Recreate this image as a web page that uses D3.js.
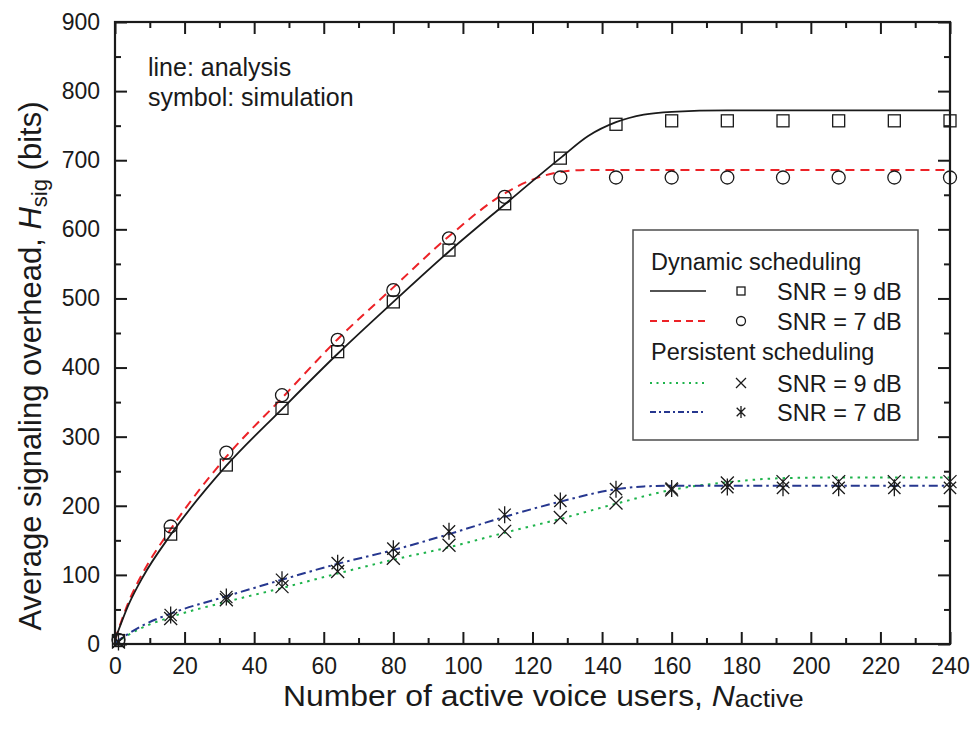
<!DOCTYPE html>
<html>
<head>
<meta charset="utf-8">
<script src="https://cdn.jsdelivr.net/npm/d3@7"></script>
<style>
  html, body { margin: 0; padding: 0; background: #fff; }
  svg { display: block; }
  text { font-family: "Liberation Sans", Arial, Helvetica, sans-serif; fill: #1a1a1a; }
</style>
</head>
<body>
<svg id="chart" width="972" height="732"></svg>
<script>
// ---------------- data ----------------
const xTickValues = [0, 20, 40, 60, 80, 100, 120, 140, 160, 180, 200, 220, 240];
const xMinorTicks = [10, 30, 50, 70, 90, 110, 130, 150, 170, 190, 210, 230];
const yTickValues = [0, 100, 200, 300, 400, 500, 600, 700, 800, 900];
const yMinorTicks = [50, 150, 250, 350, 450, 550, 650, 750, 850];

// simulation (symbols)
const simN       = [1, 16, 32, 48, 64, 80, 96, 112, 128, 144, 160, 176, 192, 208, 224, 240];
const simDyn9    = [5, 159, 259, 341, 423, 495, 570, 637, 703, 752, 757, 757, 757, 757, 757, 757];
const simDyn7    = [6, 170, 277, 360, 440, 512, 587, 647, 675, 675, 675, 675, 675, 675, 675, 675];
const simPer9    = [3, 37, 64, 83, 105, 124, 143, 163, 183, 204, 223, 233, 235, 235, 235, 235];
const simPer7    = [3, 42, 68, 93, 117, 138, 163, 187, 207, 224, 225, 227, 226, 226, 226, 226];

// analysis (lines)
const anDyn9N = [0, 4, 8, 16, 32, 48, 64, 80, 96, 112, 128, 136, 144, 152, 160, 176, 200, 240];
const anDyn9  = [6, 58, 97, 158, 258, 340, 420, 495, 568, 636, 703, 735, 755, 766, 770, 772, 772, 772];
const anDyn7N = [0, 4, 8, 16, 32, 48, 64, 80, 96, 112, 120, 128, 136, 144, 240];
const anDyn7  = [6, 62, 103, 166, 271, 356, 441, 516, 590, 652, 672, 683, 686, 686, 686];
const anPer9N = [0, 8, 16, 32, 48, 64, 80, 96, 112, 128, 144, 160, 176, 192, 208, 240];
const anPer9  = [2, 24, 39, 61, 81, 102, 122, 140, 161, 181, 203, 223, 234, 240, 241, 241];
const anPer7N = [0, 8, 16, 32, 48, 64, 80, 96, 112, 128, 144, 152, 160, 240];
const anPer7  = [2, 27, 44, 69, 93, 116, 136, 159, 184, 206, 224, 228, 229, 229];

const legendHeaders = ["Dynamic scheduling", "Persistent scheduling"];
const legendLabels  = ["SNR = 9 dB", "SNR = 7 dB", "SNR = 9 dB", "SNR = 7 dB"];

// ---------------- layout ----------------
const svg = d3.select("#chart");
const X0 = 115, X1 = 950, Y0 = 644, Y1 = 22;
const x = d3.scaleLinear().domain([0, 240]).range([X0, X1]);
const y = d3.scaleLinear().domain([0, 900]).range([Y0, Y1]);

const colors = { dyn9: "#1a1a1a", dyn7: "#ec2227", per9: "#1db34b", per7: "#26378f" };
const dashes = { dyn9: null, dyn7: "9,6", per9: "2.5,5", per7: "9,4,2.5,4" };

// ---------------- axes ----------------
function styleAxis(g) {
  g.select(".domain").remove();
  g.selectAll(".tick line").attr("stroke", "#1a1a1a").attr("stroke-width", 2);
  g.selectAll("text").style("font-size", "23px").attr("fill", "#1a1a1a");
}
svg.append("g").attr("transform", `translate(0,${Y0})`)
  .call(d3.axisBottom(x).tickValues(xTickValues).tickSize(-12).tickPadding(14).tickFormat(d3.format("d")))
  .call(styleAxis);
svg.append("g").attr("transform", `translate(0,${Y0})`)
  .call(d3.axisBottom(x).tickValues(xMinorTicks).tickSize(-6).tickFormat(""))
  .call(styleAxis);
svg.append("g").attr("transform", `translate(0,${Y1})`)
  .call(d3.axisTop(x).tickValues(xTickValues).tickSize(-12).tickFormat(""))
  .call(styleAxis);
svg.append("g").attr("transform", `translate(0,${Y1})`)
  .call(d3.axisTop(x).tickValues(xMinorTicks).tickSize(-6).tickFormat(""))
  .call(styleAxis);
svg.append("g").attr("transform", `translate(${X0},0)`)
  .call(d3.axisLeft(y).tickValues(yTickValues).tickSize(-12).tickPadding(15).tickFormat(d3.format("d")))
  .call(styleAxis);
svg.append("g").attr("transform", `translate(${X0},0)`)
  .call(d3.axisLeft(y).tickValues(yMinorTicks).tickSize(-6).tickFormat(""))
  .call(styleAxis);
svg.append("g").attr("transform", `translate(${X1},0)`)
  .call(d3.axisRight(y).tickValues(yTickValues).tickSize(-12).tickFormat(""))
  .call(styleAxis);
svg.append("g").attr("transform", `translate(${X1},0)`)
  .call(d3.axisRight(y).tickValues(yMinorTicks).tickSize(-6).tickFormat(""))
  .call(styleAxis);

// ---------------- lines ----------------
const line = d3.line().x(d => x(d[0])).y(d => y(d[1])).curve(d3.curveMonotoneX);
function drawLine(ns, vs, key) {
  svg.append("path")
    .datum(ns.map((n, i) => [n, vs[i]]))
    .attr("d", line)
    .attr("fill", "none")
    .attr("stroke", colors[key])
    .attr("stroke-width", key === "dyn9" ? 1.8 : 2)
    .attr("stroke-dasharray", dashes[key]);
}
drawLine(anPer9N, anPer9, "per9");
drawLine(anPer7N, anPer7, "per7");
drawLine(anDyn7N, anDyn7, "dyn7");
drawLine(anDyn9N, anDyn9, "dyn9");

// ---------------- markers ----------------
function marker(g, type, cx, cy, s) {
  const h = s / 2;
  if (type === "square") {
    g.append("rect").attr("x", cx - h).attr("y", cy - h).attr("width", s).attr("height", s)
      .attr("fill", "none").attr("stroke", "#1a1a1a").attr("stroke-width", 1.3);
  } else if (type === "circle") {
    g.append("circle").attr("cx", cx).attr("cy", cy).attr("r", h)
      .attr("fill", "none").attr("stroke", "#1a1a1a").attr("stroke-width", 1.3);
  } else if (type === "cross") {
    g.append("path").attr("d", `M${cx-h},${cy-h}L${cx+h},${cy+h}M${cx-h},${cy+h}L${cx+h},${cy-h}`)
      .attr("stroke", "#1a1a1a").attr("stroke-width", 1.3).attr("fill", "none");
  } else if (type === "star") {
    const a = h * 0.72;
    g.append("path").attr("d",
      `M${cx-a},${cy-a}L${cx+a},${cy+a}M${cx-a},${cy+a}L${cx+a},${cy-a}M${cx},${cy-h}L${cx},${cy+h}`)
      .attr("stroke", "#1a1a1a").attr("stroke-width", 1.3).attr("fill", "none");
  }
}
const mg = svg.append("g");
simN.forEach((n, i) => {
  marker(mg, "square", x(n), y(simDyn9[i]), 12);
  marker(mg, "circle", x(n), y(simDyn7[i]), 13);
  marker(mg, "cross", x(n), y(simPer9[i]), 13);
  marker(mg, "star", x(n), y(simPer7[i]), 17);
});

// frame
svg.append("rect").attr("x", X0).attr("y", Y1).attr("width", X1 - X0).attr("height", Y0 - Y1)
  .attr("fill", "none").attr("stroke", "#1a1a1a").attr("stroke-width", 2.2);

// ---------------- annotations ----------------
svg.append("text").attr("x", 148).attr("y", 76).style("font-size", "25px").text("line: analysis");
svg.append("text").attr("x", 148).attr("y", 106).style("font-size", "25px").text("symbol: simulation");

// ---------------- legend ----------------
const lg = svg.append("g");
lg.append("rect").attr("x", 633).attr("y", 230).attr("width", 285).attr("height", 210)
  .attr("fill", "#fff").attr("stroke", "#4d4d4d").attr("stroke-width", 1.5);
lg.append("text").attr("x", 651).attr("y", 270).style("font-size", "23.5px").text(legendHeaders[0]);
lg.append("text").attr("x", 651).attr("y", 360).style("font-size", "23.5px").text(legendHeaders[1]);
const rows = [
  { key: "dyn9", m: "square", s: 8, ly: 291, ty: 300 },
  { key: "dyn7", m: "circle", s: 9, ly: 321, ty: 330 },
  { key: "per9", m: "cross", s: 10, ly: 383, ty: 392 },
  { key: "per7", m: "star", s: 12, ly: 412, ty: 421 }
];
rows.forEach((r, i) => {
  lg.append("line").attr("x1", 650).attr("x2", 706).attr("y1", r.ly).attr("y2", r.ly)
    .attr("stroke", colors[r.key]).attr("stroke-width", r.key === "dyn9" ? 1.5 : 1.8)
    .attr("stroke-dasharray", r.key === "dyn7" ? "7,5" : r.key === "per9" ? "2,4.5" : r.key === "per7" ? "6,3,2,3" : null);
  marker(lg, r.m, 741, r.ly, r.s);
  lg.append("text").attr("x", 777).attr("y", r.ty).style("font-size", "23.5px").text(legendLabels[i]);
});

// ---------------- axis titles ----------------
const xt = svg.append("text").attr("transform", "translate(283,706) scale(1.1,1)").style("font-size", "29px");
xt.append("tspan").text("Number of active voice users, ");
xt.append("tspan").style("font-style", "italic").text("N");
xt.append("tspan").attr("dy", 1).style("font-size", "24px").text("active");

const yt = svg.append("text").attr("transform", "translate(41,366) rotate(-90)")
  .attr("text-anchor", "middle").style("font-size", "31px");
yt.append("tspan").text("Average signaling overhead, ");
yt.append("tspan").style("font-style", "italic").text("H");
yt.append("tspan").attr("dy", 6).style("font-size", "22px").text("sig");
yt.append("tspan").attr("dy", -6).text(" (bits)");
</script>
</body>
</html>
